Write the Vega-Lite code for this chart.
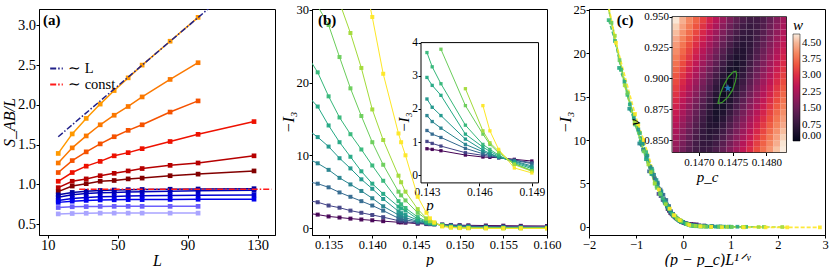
{
"$schema": "https://vega.github.io/schema/vega-lite/v6.json",
"padding": {"left": 0, "top": 3, "right": 0, "bottom": 0},
"config": {
 "font": "Liberation Serif",
 "view": {"stroke": "#000", "strokeWidth": 1},
 "axis": {"grid": false, "domainColor": "#000", "tickColor": "#000", "labelColor": "#000", "titleColor": "#000", "tickSize": 3, "labelFontSize": 12.5, "titleFontSize": 16, "titleFontWeight": "normal", "labelPadding": 0.5, "titlePadding": 0, "labelFlush": false},
 "legend": {"labelColor": "#000", "titleColor": "#000", "titleFontWeight": "normal"}
},
"datasets": {
 "sab": [
  {"L":16,"S":1.39,"d":-0.03},{"L":24,"S":1.635,"d":-0.03},{"L":32,"S":1.83,"d":-0.03},{"L":40,"S":2.01,"d":-0.03},{"L":48,"S":2.18,"d":-0.03},{"L":56,"S":2.34,"d":-0.03},{"L":64,"S":2.5,"d":-0.03},{"L":80,"S":2.8,"d":-0.03},{"L":96,"S":3.1,"d":-0.03},
  {"L":16,"S":1.27,"d":-0.025},{"L":24,"S":1.46,"d":-0.025},{"L":32,"S":1.61,"d":-0.025},{"L":40,"S":1.75,"d":-0.025},{"L":48,"S":1.87,"d":-0.025},{"L":56,"S":1.98,"d":-0.025},{"L":64,"S":2.1,"d":-0.025},{"L":80,"S":2.32,"d":-0.025},{"L":96,"S":2.53,"d":-0.025},
  {"L":16,"S":1.15,"d":-0.02},{"L":24,"S":1.3,"d":-0.02},{"L":32,"S":1.41,"d":-0.02},{"L":40,"S":1.51,"d":-0.02},{"L":48,"S":1.6,"d":-0.02},{"L":56,"S":1.68,"d":-0.02},{"L":64,"S":1.75,"d":-0.02},{"L":80,"S":1.91,"d":-0.02},{"L":96,"S":2.05,"d":-0.02},
  {"L":16,"S":1.04,"d":-0.015},{"L":24,"S":1.15,"d":-0.015},{"L":32,"S":1.23,"d":-0.015},{"L":40,"S":1.29,"d":-0.015},{"L":48,"S":1.36,"d":-0.015},{"L":56,"S":1.4,"d":-0.015},{"L":64,"S":1.45,"d":-0.015},{"L":80,"S":1.54,"d":-0.015},{"L":96,"S":1.63,"d":-0.015},{"L":128,"S":1.79,"d":-0.015},
  {"L":16,"S":0.96,"d":-0.01},{"L":24,"S":1.04,"d":-0.01},{"L":32,"S":1.07,"d":-0.01},{"L":40,"S":1.11,"d":-0.01},{"L":48,"S":1.14,"d":-0.01},{"L":56,"S":1.17,"d":-0.01},{"L":64,"S":1.2,"d":-0.01},{"L":80,"S":1.24,"d":-0.01},{"L":96,"S":1.27,"d":-0.01},{"L":128,"S":1.36,"d":-0.01},
  {"L":16,"S":0.91,"d":-0.005},{"L":24,"S":0.98,"d":-0.005},{"L":32,"S":1.01,"d":-0.005},{"L":40,"S":1.04,"d":-0.005},{"L":48,"S":1.05,"d":-0.005},{"L":56,"S":1.07,"d":-0.005},{"L":64,"S":1.08,"d":-0.005},{"L":80,"S":1.11,"d":-0.005},{"L":96,"S":1.13,"d":-0.005},{"L":128,"S":1.17,"d":-0.005},
  {"L":16,"S":0.87,"d":0},{"L":24,"S":0.9,"d":0},{"L":32,"S":0.915,"d":0},{"L":40,"S":0.925,"d":0},{"L":48,"S":0.93,"d":0},{"L":56,"S":0.935,"d":0},{"L":64,"S":0.937,"d":0},{"L":80,"S":0.94,"d":0},{"L":96,"S":0.943,"d":0},{"L":128,"S":0.947,"d":0},
  {"L":16,"S":0.84,"d":0.005},{"L":24,"S":0.87,"d":0.005},{"L":32,"S":0.885,"d":0.005},{"L":40,"S":0.895,"d":0.005},{"L":48,"S":0.9,"d":0.005},{"L":56,"S":0.905,"d":0.005},{"L":64,"S":0.91,"d":0.005},{"L":80,"S":0.915,"d":0.005},{"L":96,"S":0.92,"d":0.005},{"L":128,"S":0.926,"d":0.005},
  {"L":16,"S":0.8,"d":0.01},{"L":24,"S":0.825,"d":0.01},{"L":32,"S":0.835,"d":0.01},{"L":40,"S":0.845,"d":0.01},{"L":48,"S":0.85,"d":0.01},{"L":56,"S":0.855,"d":0.01},{"L":64,"S":0.858,"d":0.01},{"L":80,"S":0.862,"d":0.01},{"L":96,"S":0.865,"d":0.01},{"L":128,"S":0.868,"d":0.01},
  {"L":16,"S":0.775,"d":0.015},{"L":24,"S":0.79,"d":0.015},{"L":32,"S":0.8,"d":0.015},{"L":40,"S":0.805,"d":0.015},{"L":48,"S":0.807,"d":0.015},{"L":56,"S":0.81,"d":0.015},{"L":64,"S":0.81,"d":0.015},{"L":80,"S":0.812,"d":0.015},{"L":96,"S":0.814,"d":0.015},{"L":128,"S":0.815,"d":0.015},
  {"L":16,"S":0.71,"d":0.02},{"L":24,"S":0.72,"d":0.02},{"L":32,"S":0.722,"d":0.02},{"L":40,"S":0.724,"d":0.02},{"L":48,"S":0.725,"d":0.02},{"L":56,"S":0.725,"d":0.02},{"L":64,"S":0.725,"d":0.02},{"L":80,"S":0.725,"d":0.02},{"L":96,"S":0.725,"d":0.02},
  {"L":16,"S":0.63,"d":0.025},{"L":24,"S":0.635,"d":0.025},{"L":32,"S":0.638,"d":0.025},{"L":40,"S":0.64,"d":0.025},{"L":48,"S":0.64,"d":0.025},{"L":56,"S":0.64,"d":0.025},{"L":64,"S":0.64,"d":0.025},{"L":80,"S":0.64,"d":0.025},{"L":96,"S":0.64,"d":0.025}
 ],
 "refl": [
  {"L":16,"S":1.6,"kind":"∼ L"},{"L":102.5,"S":3.22,"kind":"∼ L"},
  {"L":28,"S":0.94,"kind":"∼ const"},{"L":138,"S":0.94,"kind":"∼ const"}
 ],
 "I3": [
  {"L":16,"p":0.1325,"I":2.05,"xs":-0.3346},{"L":16,"p":0.13375,"I":1.85,"xs":-0.3066},{"L":16,"p":0.135,"I":1.6,"xs":-0.2786},{"L":16,"p":0.13625,"I":1.45,"xs":-0.2507},{"L":16,"p":0.1375,"I":1.3,"xs":-0.2227},{"L":16,"p":0.13875,"I":1.18,"xs":-0.1947},{"L":16,"p":0.14,"I":1.07,"xs":-0.1667},{"L":16,"p":0.14125,"I":0.95,"xs":-0.1388},{"L":16,"p":0.143,"I":0.8,"xs":-0.0996},{"L":16,"p":0.1433,"I":0.78,"xs":-0.0929},{"L":16,"p":0.1438,"I":0.74,"xs":-0.0817},{"L":16,"p":0.1452,"I":0.61,"xs":-0.0504},{"L":16,"p":0.1462,"I":0.55,"xs":-0.028},{"L":16,"p":0.1466,"I":0.54,"xs":-0.019},{"L":16,"p":0.1471,"I":0.53,"xs":-0.0078},{"L":16,"p":0.148,"I":0.48,"xs":0.0123},{"L":16,"p":0.149,"I":0.43,"xs":0.0347},{"L":16,"p":0.15,"I":0.4,"xs":0.0571},{"L":16,"p":0.151,"I":0.38,"xs":0.0794},{"L":16,"p":0.153,"I":0.35,"xs":0.1242},{"L":16,"p":0.155,"I":0.33,"xs":0.169},{"L":16,"p":0.157,"I":0.31,"xs":0.2137},{"L":16,"p":0.16,"I":0.29,"xs":0.2809},
  {"L":24,"p":0.1325,"I":3.8,"xs":-0.5273},{"L":24,"p":0.13375,"I":3.55,"xs":-0.4832},{"L":24,"p":0.135,"I":3.1,"xs":-0.4391},{"L":24,"p":0.13625,"I":2.8,"xs":-0.395},{"L":24,"p":0.1375,"I":2.4,"xs":-0.3509},{"L":24,"p":0.13875,"I":2.1,"xs":-0.3068},{"L":24,"p":0.14,"I":1.8,"xs":-0.2628},{"L":24,"p":0.14125,"I":1.5,"xs":-0.2187},{"L":24,"p":0.143,"I":1.02,"xs":-0.157},{"L":24,"p":0.1433,"I":0.96,"xs":-0.1464},{"L":24,"p":0.1438,"I":0.88,"xs":-0.1287},{"L":24,"p":0.1452,"I":0.68,"xs":-0.0794},{"L":24,"p":0.1462,"I":0.6,"xs":-0.0441},{"L":24,"p":0.1466,"I":0.57,"xs":-0.03},{"L":24,"p":0.1471,"I":0.53,"xs":-0.0123},{"L":24,"p":0.148,"I":0.46,"xs":0.0194},{"L":24,"p":0.149,"I":0.38,"xs":0.0547},{"L":24,"p":0.15,"I":0.33,"xs":0.0899},{"L":24,"p":0.151,"I":0.29,"xs":0.1252},{"L":24,"p":0.153,"I":0.24,"xs":0.1957},{"L":24,"p":0.155,"I":0.21,"xs":0.2663},{"L":24,"p":0.157,"I":0.19,"xs":0.3368},{"L":24,"p":0.16,"I":0.17,"xs":0.4426},
  {"L":32,"p":0.1325,"I":6.4,"xs":-0.7278},{"L":32,"p":0.13375,"I":6.1,"xs":-0.6669},{"L":32,"p":0.135,"I":5.6,"xs":-0.6061},{"L":32,"p":0.13625,"I":4.9,"xs":-0.5452},{"L":32,"p":0.1375,"I":4.3,"xs":-0.4844},{"L":32,"p":0.13875,"I":3.7,"xs":-0.4235},{"L":32,"p":0.14,"I":3.1,"xs":-0.3627},{"L":32,"p":0.14125,"I":2.4,"xs":-0.3018},{"L":32,"p":0.143,"I":1.35,"xs":-0.2166},{"L":32,"p":0.1433,"I":1.24,"xs":-0.202},{"L":32,"p":0.1438,"I":1.14,"xs":-0.1777},{"L":32,"p":0.1452,"I":0.81,"xs":-0.1095},{"L":32,"p":0.1462,"I":0.65,"xs":-0.0609},{"L":32,"p":0.1466,"I":0.6,"xs":-0.0414},{"L":32,"p":0.1471,"I":0.53,"xs":-0.017},{"L":32,"p":0.148,"I":0.45,"xs":0.0268},{"L":32,"p":0.149,"I":0.35,"xs":0.0755},{"L":32,"p":0.15,"I":0.28,"xs":0.1241},{"L":32,"p":0.151,"I":0.23,"xs":0.1728},{"L":32,"p":0.153,"I":0.17,"xs":0.2702},{"L":32,"p":0.155,"I":0.14,"xs":0.3675},{"L":32,"p":0.157,"I":0.12,"xs":0.4649},{"L":32,"p":0.16,"I":0.1,"xs":0.6109},
  {"L":40,"p":0.1325,"I":9.6,"xs":-0.9345},{"L":40,"p":0.13375,"I":8.9,"xs":-0.8564},{"L":40,"p":0.135,"I":8.0,"xs":-0.7782},{"L":40,"p":0.13625,"I":6.9,"xs":-0.7001},{"L":40,"p":0.1375,"I":6.0,"xs":-0.622},{"L":40,"p":0.13875,"I":5.1,"xs":-0.5438},{"L":40,"p":0.14,"I":4.1,"xs":-0.4657},{"L":40,"p":0.14125,"I":3.0,"xs":-0.3876},{"L":40,"p":0.143,"I":1.8,"xs":-0.2782},{"L":40,"p":0.1433,"I":1.62,"xs":-0.2594},{"L":40,"p":0.1438,"I":1.42,"xs":-0.2282},{"L":40,"p":0.1452,"I":0.93,"xs":-0.1406},{"L":40,"p":0.1462,"I":0.71,"xs":-0.0781},{"L":40,"p":0.1466,"I":0.63,"xs":-0.0531},{"L":40,"p":0.1471,"I":0.55,"xs":-0.0219},{"L":40,"p":0.148,"I":0.43,"xs":0.0344},{"L":40,"p":0.149,"I":0.28,"xs":0.0969},{"L":40,"p":0.15,"I":0.2,"xs":0.1594},{"L":40,"p":0.151,"I":0.15,"xs":0.2219},{"L":40,"p":0.153,"I":0.1,"xs":0.3469},{"L":40,"p":0.155,"I":0.08,"xs":0.472},{"L":40,"p":0.157,"I":0.07,"xs":0.597},{"L":40,"p":0.16,"I":0.06,"xs":0.7845},
  {"L":48,"p":0.1325,"I":13.6,"xs":-1.1468},{"L":48,"p":0.13375,"I":12.5,"xs":-1.0509},{"L":48,"p":0.135,"I":11.2,"xs":-0.955},{"L":48,"p":0.13625,"I":9.6,"xs":-0.8592},{"L":48,"p":0.1375,"I":8.2,"xs":-0.7633},{"L":48,"p":0.13875,"I":6.7,"xs":-0.6674},{"L":48,"p":0.14,"I":5.4,"xs":-0.5715},{"L":48,"p":0.14125,"I":4.0,"xs":-0.4756},{"L":48,"p":0.143,"I":2.3,"xs":-0.3414},{"L":48,"p":0.1433,"I":2.05,"xs":-0.3183},{"L":48,"p":0.1438,"I":1.8,"xs":-0.28},{"L":48,"p":0.1452,"I":1.09,"xs":-0.1726},{"L":48,"p":0.1462,"I":0.76,"xs":-0.0959},{"L":48,"p":0.1466,"I":0.66,"xs":-0.0652},{"L":48,"p":0.1471,"I":0.55,"xs":-0.0268},{"L":48,"p":0.148,"I":0.41,"xs":0.0422},{"L":48,"p":0.149,"I":0.24,"xs":0.1189},{"L":48,"p":0.15,"I":0.15,"xs":0.1956},{"L":48,"p":0.151,"I":0.1,"xs":0.2723},{"L":48,"p":0.153,"I":0.06,"xs":0.4257},{"L":48,"p":0.155,"I":0.05,"xs":0.5792},{"L":48,"p":0.157,"I":0.04,"xs":0.7326},{"L":48,"p":0.16,"I":0.03,"xs":0.9627},
  {"L":56,"p":0.1325,"I":18.3,"xs":-1.363},{"L":56,"p":0.13375,"I":16.7,"xs":-1.249},{"L":56,"p":0.135,"I":14.1,"xs":-1.1351},{"L":56,"p":0.13625,"I":11.8,"xs":-1.0211},{"L":56,"p":0.1375,"I":9.8,"xs":-0.9071},{"L":56,"p":0.13875,"I":7.8,"xs":-0.7932},{"L":56,"p":0.14,"I":6.1,"xs":-0.6792},{"L":56,"p":0.14125,"I":4.7,"xs":-0.5653},{"L":56,"p":0.143,"I":2.95,"xs":-0.4057},{"L":56,"p":0.1433,"I":2.71,"xs":-0.3784},{"L":56,"p":0.1438,"I":2.41,"xs":-0.3328},{"L":56,"p":0.1452,"I":1.24,"xs":-0.2051},{"L":56,"p":0.1462,"I":0.85,"xs":-0.114},{"L":56,"p":0.1466,"I":0.72,"xs":-0.0775},{"L":56,"p":0.1471,"I":0.58,"xs":-0.0319},{"L":56,"p":0.148,"I":0.38,"xs":0.0501},{"L":56,"p":0.149,"I":0.2,"xs":0.1413},{"L":56,"p":0.15,"I":0.12,"xs":0.2325},{"L":56,"p":0.151,"I":0.08,"xs":0.3237},{"L":56,"p":0.153,"I":0.04,"xs":0.506},{"L":56,"p":0.155,"I":0.03,"xs":0.6883},{"L":56,"p":0.157,"I":0.03,"xs":0.8707},{"L":56,"p":0.16,"I":0.02,"xs":1.1442},
  {"L":64,"p":0.1325,"I":23.8,"xs":-1.5832},{"L":64,"p":0.13375,"I":21.4,"xs":-1.4508},{"L":64,"p":0.135,"I":18.1,"xs":-1.3185},{"L":64,"p":0.13625,"I":15.2,"xs":-1.1861},{"L":64,"p":0.1375,"I":12.9,"xs":-1.0537},{"L":64,"p":0.13875,"I":10.8,"xs":-0.9213},{"L":64,"p":0.14,"I":8.6,"xs":-0.789},{"L":64,"p":0.14125,"I":6.5,"xs":-0.6566},{"L":64,"p":0.143,"I":3.7,"xs":-0.4713},{"L":64,"p":0.1433,"I":3.27,"xs":-0.4395},{"L":64,"p":0.1438,"I":2.76,"xs":-0.3865},{"L":64,"p":0.1452,"I":1.51,"xs":-0.2383},{"L":64,"p":0.1462,"I":0.93,"xs":-0.1324},{"L":64,"p":0.1466,"I":0.78,"xs":-0.09},{"L":64,"p":0.1471,"I":0.61,"xs":-0.0371},{"L":64,"p":0.148,"I":0.35,"xs":0.0582},{"L":64,"p":0.149,"I":0.14,"xs":0.1641},{"L":64,"p":0.15,"I":0.08,"xs":0.27},{"L":64,"p":0.151,"I":0.05,"xs":0.3759},{"L":64,"p":0.153,"I":0.03,"xs":0.5877},{"L":64,"p":0.155,"I":0.02,"xs":0.7995},{"L":64,"p":0.157,"I":0.02,"xs":1.0113},{"L":64,"p":0.16,"I":0.01,"xs":1.329},
  {"L":80,"p":0.1325,"I":34.0,"xs":-2.0332},{"L":80,"p":0.13375,"I":30.5,"xs":-1.8632},{"L":80,"p":0.135,"I":27.9,"xs":-1.6932},{"L":80,"p":0.13625,"I":23.5,"xs":-1.5232},{"L":80,"p":0.1375,"I":19.2,"xs":-1.3532},{"L":80,"p":0.13875,"I":15.4,"xs":-1.1832},{"L":80,"p":0.14,"I":11.8,"xs":-1.0132},{"L":80,"p":0.14125,"I":8.7,"xs":-0.8432},{"L":80,"p":0.143,"I":5.0,"xs":-0.6052},{"L":80,"p":0.1433,"I":4.5,"xs":-0.5644},{"L":80,"p":0.1438,"I":3.8,"xs":-0.4964},{"L":80,"p":0.1452,"I":2.1,"xs":-0.306},{"L":80,"p":0.1462,"I":1.24,"xs":-0.17},{"L":80,"p":0.1466,"I":0.93,"xs":-0.1156},{"L":80,"p":0.1471,"I":0.68,"xs":-0.0476},{"L":80,"p":0.148,"I":0.35,"xs":0.0748},{"L":80,"p":0.149,"I":0.14,"xs":0.2108},{"L":80,"p":0.15,"I":0.06,"xs":0.3468},{"L":80,"p":0.151,"I":0.03,"xs":0.4828},{"L":80,"p":0.153,"I":0.01,"xs":0.7548},{"L":80,"p":0.155,"I":0.0,"xs":1.0268},{"L":80,"p":0.157,"I":0.0,"xs":1.2988},{"L":80,"p":0.16,"I":0.0,"xs":1.7068},
  {"L":96,"p":0.13625,"I":31.0,"xs":-1.8693},{"L":96,"p":0.1375,"I":26.8,"xs":-1.6607},{"L":96,"p":0.13875,"I":22.0,"xs":-1.452},{"L":96,"p":0.14,"I":16.3,"xs":-1.2434},{"L":96,"p":0.14125,"I":12.1,"xs":-1.0348},{"L":96,"p":0.143,"I":7.2,"xs":-0.7427},{"L":96,"p":0.1433,"I":6.3,"xs":-0.6926},{"L":96,"p":0.1438,"I":5.0,"xs":-0.6092},{"L":96,"p":0.1452,"I":2.61,"xs":-0.3755},{"L":96,"p":0.1462,"I":1.34,"xs":-0.2086},{"L":96,"p":0.1466,"I":0.98,"xs":-0.1419},{"L":96,"p":0.1471,"I":0.73,"xs":-0.0584},{"L":96,"p":0.148,"I":0.32,"xs":0.0918},{"L":96,"p":0.149,"I":0.12,"xs":0.2587},{"L":96,"p":0.15,"I":0.05,"xs":0.4256},{"L":96,"p":0.151,"I":0.02,"xs":0.5925},{"L":96,"p":0.153,"I":0.0,"xs":0.9263},{"L":96,"p":0.155,"I":-0.01,"xs":1.2601},{"L":96,"p":0.157,"I":-0.01,"xs":1.5939},{"L":96,"p":0.16,"I":-0.01,"xs":2.0946},
  {"L":128,"p":0.13875,"I":36.0,"xs":-2.0045},{"L":128,"p":0.14,"I":29.0,"xs":-1.7165},{"L":128,"p":0.14125,"I":21.2,"xs":-1.4285},{"L":128,"p":0.143,"I":13.0,"xs":-1.0253},{"L":128,"p":0.1433,"I":11.8,"xs":-0.9562},{"L":128,"p":0.1438,"I":10.0,"xs":-0.841},{"L":128,"p":0.1452,"I":4.3,"xs":-0.5184},{"L":128,"p":0.1462,"I":2.1,"xs":-0.288},{"L":128,"p":0.1466,"I":1.34,"xs":-0.1958},{"L":128,"p":0.1471,"I":0.78,"xs":-0.0806},{"L":128,"p":0.148,"I":0.22,"xs":0.1267},{"L":128,"p":0.149,"I":0.07,"xs":0.3571},{"L":128,"p":0.15,"I":0.0,"xs":0.5875},{"L":128,"p":0.151,"I":-0.03,"xs":0.8179},{"L":128,"p":0.153,"I":-0.05,"xs":1.2787},{"L":128,"p":0.155,"I":-0.05,"xs":1.7395},{"L":128,"p":0.157,"I":-0.05,"xs":2.2003},{"L":128,"p":0.16,"I":-0.05,"xs":2.8915}
 ],
 "ell": [
  {"pc":0.14728,"nu":0.8795,"o":1},{"pc":0.14732,"nu":0.888,"o":2},{"pc":0.14737,"nu":0.8946,"o":3},{"pc":0.14744,"nu":0.9013,"o":4},{"pc":0.14751,"nu":0.9053,"o":5},{"pc":0.14755,"nu":0.9058,"o":6},{"pc":0.14756,"nu":0.9026,"o":7},{"pc":0.14754,"nu":0.8973,"o":8},{"pc":0.1475,"nu":0.8906,"o":9},{"pc":0.14743,"nu":0.8848,"o":10},{"pc":0.14735,"nu":0.8806,"o":11},{"pc":0.14728,"nu":0.8795,"o":12}
 ],
 "star": [{"pc":0.14743,"nu":0.892}],
 "heat": [
  {"pc":0.1466,"nu":0.84,"w":1.95},{"pc":0.1467,"nu":0.84,"w":1.57},{"pc":0.1468,"nu":0.84,"w":1.23},{"pc":0.1469,"nu":0.84,"w":0.95},{"pc":0.147,"nu":0.84,"w":0.8},{"pc":0.1471,"nu":0.84,"w":0.86},{"pc":0.1472,"nu":0.84,"w":1.09},{"pc":0.1473,"nu":0.84,"w":1.41},{"pc":0.1474,"nu":0.84,"w":1.77},{"pc":0.1475,"nu":0.84,"w":2.15},{"pc":0.1476,"nu":0.84,"w":2.55},{"pc":0.1477,"nu":0.84,"w":2.95},{"pc":0.1478,"nu":0.84,"w":3.36},{"pc":0.1479,"nu":0.84,"w":3.77},{"pc":0.148,"nu":0.84,"w":4.18},{"pc":0.1481,"nu":0.84,"w":4.59},{"pc":0.1482,"nu":0.84,"w":4.9},
  {"pc":0.1466,"nu":0.845,"w":2.05},{"pc":0.1467,"nu":0.845,"w":1.66},{"pc":0.1468,"nu":0.845,"w":1.29},{"pc":0.1469,"nu":0.845,"w":0.97},{"pc":0.147,"nu":0.845,"w":0.75},{"pc":0.1471,"nu":0.845,"w":0.74},{"pc":0.1472,"nu":0.845,"w":0.93},{"pc":0.1473,"nu":0.845,"w":1.25},{"pc":0.1474,"nu":0.845,"w":1.61},{"pc":0.1475,"nu":0.845,"w":1.99},{"pc":0.1476,"nu":0.845,"w":2.39},{"pc":0.1477,"nu":0.845,"w":2.79},{"pc":0.1478,"nu":0.845,"w":3.2},{"pc":0.1479,"nu":0.845,"w":3.61},{"pc":0.148,"nu":0.845,"w":4.03},{"pc":0.1481,"nu":0.845,"w":4.44},{"pc":0.1482,"nu":0.845,"w":4.85},
  {"pc":0.1466,"nu":0.85,"w":2.16},{"pc":0.1467,"nu":0.85,"w":1.76},{"pc":0.1468,"nu":0.85,"w":1.38},{"pc":0.1469,"nu":0.85,"w":1.02},{"pc":0.147,"nu":0.85,"w":0.74},{"pc":0.1471,"nu":0.85,"w":0.63},{"pc":0.1472,"nu":0.85,"w":0.78},{"pc":0.1473,"nu":0.85,"w":1.08},{"pc":0.1474,"nu":0.85,"w":1.44},{"pc":0.1475,"nu":0.85,"w":1.83},{"pc":0.1476,"nu":0.85,"w":2.23},{"pc":0.1477,"nu":0.85,"w":2.64},{"pc":0.1478,"nu":0.85,"w":3.04},{"pc":0.1479,"nu":0.85,"w":3.46},{"pc":0.148,"nu":0.85,"w":3.87},{"pc":0.1481,"nu":0.85,"w":4.29},{"pc":0.1482,"nu":0.85,"w":4.7},
  {"pc":0.1466,"nu":0.855,"w":2.27},{"pc":0.1467,"nu":0.855,"w":1.87},{"pc":0.1468,"nu":0.855,"w":1.47},{"pc":0.1469,"nu":0.855,"w":1.1},{"pc":0.147,"nu":0.855,"w":0.76},{"pc":0.1471,"nu":0.855,"w":0.56},{"pc":0.1472,"nu":0.855,"w":0.64},{"pc":0.1473,"nu":0.855,"w":0.92},{"pc":0.1474,"nu":0.855,"w":1.28},{"pc":0.1475,"nu":0.855,"w":1.67},{"pc":0.1476,"nu":0.855,"w":2.07},{"pc":0.1477,"nu":0.855,"w":2.48},{"pc":0.1478,"nu":0.855,"w":2.89},{"pc":0.1479,"nu":0.855,"w":3.3},{"pc":0.148,"nu":0.855,"w":3.72},{"pc":0.1481,"nu":0.855,"w":4.13},{"pc":0.1482,"nu":0.855,"w":4.55},
  {"pc":0.1466,"nu":0.86,"w":2.4},{"pc":0.1467,"nu":0.86,"w":1.99},{"pc":0.1468,"nu":0.86,"w":1.58},{"pc":0.1469,"nu":0.86,"w":1.19},{"pc":0.147,"nu":0.86,"w":0.82},{"pc":0.1471,"nu":0.86,"w":0.53},{"pc":0.1472,"nu":0.86,"w":0.5},{"pc":0.1473,"nu":0.86,"w":0.76},{"pc":0.1474,"nu":0.86,"w":1.12},{"pc":0.1475,"nu":0.86,"w":1.51},{"pc":0.1476,"nu":0.86,"w":1.91},{"pc":0.1477,"nu":0.86,"w":2.32},{"pc":0.1478,"nu":0.86,"w":2.73},{"pc":0.1479,"nu":0.86,"w":3.15},{"pc":0.148,"nu":0.86,"w":3.56},{"pc":0.1481,"nu":0.86,"w":3.98},{"pc":0.1482,"nu":0.86,"w":4.4},
  {"pc":0.1466,"nu":0.865,"w":2.52},{"pc":0.1467,"nu":0.865,"w":2.11},{"pc":0.1468,"nu":0.865,"w":1.7},{"pc":0.1469,"nu":0.865,"w":1.29},{"pc":0.147,"nu":0.865,"w":0.9},{"pc":0.1471,"nu":0.865,"w":0.55},{"pc":0.1472,"nu":0.865,"w":0.39},{"pc":0.1473,"nu":0.865,"w":0.6},{"pc":0.1474,"nu":0.865,"w":0.95},{"pc":0.1475,"nu":0.865,"w":1.35},{"pc":0.1476,"nu":0.865,"w":1.75},{"pc":0.1477,"nu":0.865,"w":2.17},{"pc":0.1478,"nu":0.865,"w":2.58},{"pc":0.1479,"nu":0.865,"w":2.99},{"pc":0.148,"nu":0.865,"w":3.41},{"pc":0.1481,"nu":0.865,"w":3.83},{"pc":0.1482,"nu":0.865,"w":4.25},
  {"pc":0.1466,"nu":0.87,"w":2.65},{"pc":0.1467,"nu":0.87,"w":2.24},{"pc":0.1468,"nu":0.87,"w":1.82},{"pc":0.1469,"nu":0.87,"w":1.41},{"pc":0.147,"nu":0.87,"w":1.0},{"pc":0.1471,"nu":0.87,"w":0.62},{"pc":0.1472,"nu":0.87,"w":0.33},{"pc":0.1473,"nu":0.87,"w":0.44},{"pc":0.1474,"nu":0.87,"w":0.79},{"pc":0.1475,"nu":0.87,"w":1.19},{"pc":0.1476,"nu":0.87,"w":1.6},{"pc":0.1477,"nu":0.87,"w":2.01},{"pc":0.1478,"nu":0.87,"w":2.43},{"pc":0.1479,"nu":0.87,"w":2.84},{"pc":0.148,"nu":0.87,"w":3.26},{"pc":0.1481,"nu":0.87,"w":3.68},{"pc":0.1482,"nu":0.87,"w":4.1},
  {"pc":0.1466,"nu":0.875,"w":2.79},{"pc":0.1467,"nu":0.875,"w":2.37},{"pc":0.1468,"nu":0.875,"w":1.95},{"pc":0.1469,"nu":0.875,"w":1.53},{"pc":0.147,"nu":0.875,"w":1.12},{"pc":0.1471,"nu":0.875,"w":0.72},{"pc":0.1472,"nu":0.875,"w":0.35},{"pc":0.1473,"nu":0.875,"w":0.29},{"pc":0.1474,"nu":0.875,"w":0.63},{"pc":0.1475,"nu":0.875,"w":1.03},{"pc":0.1476,"nu":0.875,"w":1.44},{"pc":0.1477,"nu":0.875,"w":1.86},{"pc":0.1478,"nu":0.875,"w":2.28},{"pc":0.1479,"nu":0.875,"w":2.69},{"pc":0.148,"nu":0.875,"w":3.11},{"pc":0.1481,"nu":0.875,"w":3.53},{"pc":0.1482,"nu":0.875,"w":3.95},
  {"pc":0.1466,"nu":0.88,"w":2.92},{"pc":0.1467,"nu":0.88,"w":2.5},{"pc":0.1468,"nu":0.88,"w":2.08},{"pc":0.1469,"nu":0.88,"w":1.67},{"pc":0.147,"nu":0.88,"w":1.25},{"pc":0.1471,"nu":0.88,"w":0.83},{"pc":0.1472,"nu":0.88,"w":0.43},{"pc":0.1473,"nu":0.88,"w":0.15},{"pc":0.1474,"nu":0.88,"w":0.47},{"pc":0.1475,"nu":0.88,"w":0.87},{"pc":0.1476,"nu":0.88,"w":1.29},{"pc":0.1477,"nu":0.88,"w":1.71},{"pc":0.1478,"nu":0.88,"w":2.13},{"pc":0.1479,"nu":0.88,"w":2.55},{"pc":0.148,"nu":0.88,"w":2.97},{"pc":0.1481,"nu":0.88,"w":3.38},{"pc":0.1482,"nu":0.88,"w":3.8},
  {"pc":0.1466,"nu":0.885,"w":3.06},{"pc":0.1467,"nu":0.885,"w":2.64},{"pc":0.1468,"nu":0.885,"w":2.22},{"pc":0.1469,"nu":0.885,"w":1.8},{"pc":0.147,"nu":0.885,"w":1.38},{"pc":0.1471,"nu":0.885,"w":0.97},{"pc":0.1472,"nu":0.885,"w":0.55},{"pc":0.1473,"nu":0.885,"w":0.14},{"pc":0.1474,"nu":0.885,"w":0.31},{"pc":0.1475,"nu":0.885,"w":0.72},{"pc":0.1476,"nu":0.885,"w":1.14},{"pc":0.1477,"nu":0.885,"w":1.56},{"pc":0.1478,"nu":0.885,"w":1.98},{"pc":0.1479,"nu":0.885,"w":2.4},{"pc":0.148,"nu":0.885,"w":2.82},{"pc":0.1481,"nu":0.885,"w":3.24},{"pc":0.1482,"nu":0.885,"w":3.66},
  {"pc":0.1466,"nu":0.89,"w":3.21},{"pc":0.1467,"nu":0.89,"w":2.79},{"pc":0.1468,"nu":0.89,"w":2.37},{"pc":0.1469,"nu":0.89,"w":1.95},{"pc":0.147,"nu":0.89,"w":1.53},{"pc":0.1471,"nu":0.89,"w":1.11},{"pc":0.1472,"nu":0.89,"w":0.69},{"pc":0.1473,"nu":0.89,"w":0.27},{"pc":0.1474,"nu":0.89,"w":0.16},{"pc":0.1475,"nu":0.89,"w":0.58},{"pc":0.1476,"nu":0.89,"w":1.0},{"pc":0.1477,"nu":0.89,"w":1.42},{"pc":0.1478,"nu":0.89,"w":1.84},{"pc":0.1479,"nu":0.89,"w":2.26},{"pc":0.148,"nu":0.89,"w":2.68},{"pc":0.1481,"nu":0.89,"w":3.1},{"pc":0.1482,"nu":0.89,"w":3.52},
  {"pc":0.1466,"nu":0.895,"w":3.35},{"pc":0.1467,"nu":0.895,"w":2.93},{"pc":0.1468,"nu":0.895,"w":2.51},{"pc":0.1469,"nu":0.895,"w":2.09},{"pc":0.147,"nu":0.895,"w":1.67},{"pc":0.1471,"nu":0.895,"w":1.25},{"pc":0.1472,"nu":0.895,"w":0.83},{"pc":0.1473,"nu":0.895,"w":0.42},{"pc":0.1474,"nu":0.895,"w":0.09},{"pc":0.1475,"nu":0.895,"w":0.44},{"pc":0.1476,"nu":0.895,"w":0.86},{"pc":0.1477,"nu":0.895,"w":1.28},{"pc":0.1478,"nu":0.895,"w":1.7},{"pc":0.1479,"nu":0.895,"w":2.11},{"pc":0.148,"nu":0.895,"w":2.53},{"pc":0.1481,"nu":0.895,"w":2.95},{"pc":0.1482,"nu":0.895,"w":3.37},
  {"pc":0.1466,"nu":0.9,"w":3.49},{"pc":0.1467,"nu":0.9,"w":3.08},{"pc":0.1468,"nu":0.9,"w":2.66},{"pc":0.1469,"nu":0.9,"w":2.24},{"pc":0.147,"nu":0.9,"w":1.82},{"pc":0.1471,"nu":0.9,"w":1.4},{"pc":0.1472,"nu":0.9,"w":0.98},{"pc":0.1473,"nu":0.9,"w":0.58},{"pc":0.1474,"nu":0.9,"w":0.21},{"pc":0.1475,"nu":0.9,"w":0.34},{"pc":0.1476,"nu":0.9,"w":0.73},{"pc":0.1477,"nu":0.9,"w":1.14},{"pc":0.1478,"nu":0.9,"w":1.56},{"pc":0.1479,"nu":0.9,"w":1.98},{"pc":0.148,"nu":0.9,"w":2.4},{"pc":0.1481,"nu":0.9,"w":2.82},{"pc":0.1482,"nu":0.9,"w":3.23},
  {"pc":0.1466,"nu":0.905,"w":3.64},{"pc":0.1467,"nu":0.905,"w":3.22},{"pc":0.1468,"nu":0.905,"w":2.8},{"pc":0.1469,"nu":0.905,"w":2.39},{"pc":0.147,"nu":0.905,"w":1.97},{"pc":0.1471,"nu":0.905,"w":1.55},{"pc":0.1472,"nu":0.905,"w":1.14},{"pc":0.1473,"nu":0.905,"w":0.74},{"pc":0.1474,"nu":0.905,"w":0.37},{"pc":0.1475,"nu":0.905,"w":0.29},{"pc":0.1476,"nu":0.905,"w":0.62},{"pc":0.1477,"nu":0.905,"w":1.02},{"pc":0.1478,"nu":0.905,"w":1.43},{"pc":0.1479,"nu":0.905,"w":1.84},{"pc":0.148,"nu":0.905,"w":2.26},{"pc":0.1481,"nu":0.905,"w":2.68},{"pc":0.1482,"nu":0.905,"w":3.1},
  {"pc":0.1466,"nu":0.91,"w":3.79},{"pc":0.1467,"nu":0.91,"w":3.37},{"pc":0.1468,"nu":0.91,"w":2.95},{"pc":0.1469,"nu":0.91,"w":2.54},{"pc":0.147,"nu":0.91,"w":2.12},{"pc":0.1471,"nu":0.91,"w":1.71},{"pc":0.1472,"nu":0.91,"w":1.3},{"pc":0.1473,"nu":0.91,"w":0.9},{"pc":0.1474,"nu":0.91,"w":0.53},{"pc":0.1475,"nu":0.91,"w":0.33},{"pc":0.1476,"nu":0.91,"w":0.54},{"pc":0.1477,"nu":0.91,"w":0.91},{"pc":0.1478,"nu":0.91,"w":1.31},{"pc":0.1479,"nu":0.91,"w":1.72},{"pc":0.148,"nu":0.91,"w":2.13},{"pc":0.1481,"nu":0.91,"w":2.55},{"pc":0.1482,"nu":0.91,"w":2.96},
  {"pc":0.1466,"nu":0.915,"w":3.94},{"pc":0.1467,"nu":0.915,"w":3.52},{"pc":0.1468,"nu":0.915,"w":3.11},{"pc":0.1469,"nu":0.915,"w":2.69},{"pc":0.147,"nu":0.915,"w":2.28},{"pc":0.1471,"nu":0.915,"w":1.86},{"pc":0.1472,"nu":0.915,"w":1.46},{"pc":0.1473,"nu":0.915,"w":1.06},{"pc":0.1474,"nu":0.915,"w":0.69},{"pc":0.1475,"nu":0.915,"w":0.43},{"pc":0.1476,"nu":0.915,"w":0.5},{"pc":0.1477,"nu":0.915,"w":0.81},{"pc":0.1478,"nu":0.915,"w":1.19},{"pc":0.1479,"nu":0.915,"w":1.59},{"pc":0.148,"nu":0.915,"w":2.0},{"pc":0.1481,"nu":0.915,"w":2.42},{"pc":0.1482,"nu":0.915,"w":2.83},
  {"pc":0.1466,"nu":0.92,"w":4.09},{"pc":0.1467,"nu":0.92,"w":3.67},{"pc":0.1468,"nu":0.92,"w":3.26},{"pc":0.1469,"nu":0.92,"w":2.84},{"pc":0.147,"nu":0.92,"w":2.43},{"pc":0.1471,"nu":0.92,"w":2.02},{"pc":0.1472,"nu":0.92,"w":1.62},{"pc":0.1473,"nu":0.92,"w":1.22},{"pc":0.1474,"nu":0.92,"w":0.85},{"pc":0.1475,"nu":0.92,"w":0.56},{"pc":0.1476,"nu":0.92,"w":0.51},{"pc":0.1477,"nu":0.92,"w":0.74},{"pc":0.1478,"nu":0.92,"w":1.09},{"pc":0.1479,"nu":0.92,"w":1.48},{"pc":0.148,"nu":0.92,"w":1.88},{"pc":0.1481,"nu":0.92,"w":2.29},{"pc":0.1482,"nu":0.92,"w":2.7},
  {"pc":0.1466,"nu":0.925,"w":4.24},{"pc":0.1467,"nu":0.925,"w":3.83},{"pc":0.1468,"nu":0.925,"w":3.41},{"pc":0.1469,"nu":0.925,"w":3.0},{"pc":0.147,"nu":0.925,"w":2.59},{"pc":0.1471,"nu":0.925,"w":2.18},{"pc":0.1472,"nu":0.925,"w":1.78},{"pc":0.1473,"nu":0.925,"w":1.39},{"pc":0.1474,"nu":0.925,"w":1.02},{"pc":0.1475,"nu":0.925,"w":0.71},{"pc":0.1476,"nu":0.925,"w":0.57},{"pc":0.1477,"nu":0.925,"w":0.7},{"pc":0.1478,"nu":0.925,"w":1.01},{"pc":0.1479,"nu":0.925,"w":1.38},{"pc":0.148,"nu":0.925,"w":1.77},{"pc":0.1481,"nu":0.925,"w":2.17},{"pc":0.1482,"nu":0.925,"w":2.58},
  {"pc":0.1466,"nu":0.93,"w":4.4},{"pc":0.1467,"nu":0.93,"w":3.98},{"pc":0.1468,"nu":0.93,"w":3.57},{"pc":0.1469,"nu":0.93,"w":3.15},{"pc":0.147,"nu":0.93,"w":2.75},{"pc":0.1471,"nu":0.93,"w":2.34},{"pc":0.1472,"nu":0.93,"w":1.94},{"pc":0.1473,"nu":0.93,"w":1.55},{"pc":0.1474,"nu":0.93,"w":1.18},{"pc":0.1475,"nu":0.93,"w":0.86},{"pc":0.1476,"nu":0.93,"w":0.67},{"pc":0.1477,"nu":0.93,"w":0.7},{"pc":0.1478,"nu":0.93,"w":0.95},{"pc":0.1479,"nu":0.93,"w":1.29},{"pc":0.148,"nu":0.93,"w":1.66},{"pc":0.1481,"nu":0.93,"w":2.06},{"pc":0.1482,"nu":0.93,"w":2.46},
  {"pc":0.1466,"nu":0.935,"w":4.55},{"pc":0.1467,"nu":0.935,"w":4.13},{"pc":0.1468,"nu":0.935,"w":3.72},{"pc":0.1469,"nu":0.935,"w":3.31},{"pc":0.147,"nu":0.935,"w":2.9},{"pc":0.1471,"nu":0.935,"w":2.5},{"pc":0.1472,"nu":0.935,"w":2.1},{"pc":0.1473,"nu":0.935,"w":1.71},{"pc":0.1474,"nu":0.935,"w":1.34},{"pc":0.1475,"nu":0.935,"w":1.02},{"pc":0.1476,"nu":0.935,"w":0.78},{"pc":0.1477,"nu":0.935,"w":0.74},{"pc":0.1478,"nu":0.935,"w":0.91},{"pc":0.1479,"nu":0.935,"w":1.21},{"pc":0.148,"nu":0.935,"w":1.57},{"pc":0.1481,"nu":0.935,"w":1.95},{"pc":0.1482,"nu":0.935,"w":2.35},
  {"pc":0.1466,"nu":0.94,"w":4.7},{"pc":0.1467,"nu":0.94,"w":4.29},{"pc":0.1468,"nu":0.94,"w":3.88},{"pc":0.1469,"nu":0.94,"w":3.47},{"pc":0.147,"nu":0.94,"w":3.06},{"pc":0.1471,"nu":0.94,"w":2.66},{"pc":0.1472,"nu":0.94,"w":2.26},{"pc":0.1473,"nu":0.94,"w":1.88},{"pc":0.1474,"nu":0.94,"w":1.51},{"pc":0.1475,"nu":0.94,"w":1.18},{"pc":0.1476,"nu":0.94,"w":0.92},{"pc":0.1477,"nu":0.94,"w":0.81},{"pc":0.1478,"nu":0.94,"w":0.91},{"pc":0.1479,"nu":0.94,"w":1.16},{"pc":0.148,"nu":0.94,"w":1.49},{"pc":0.1481,"nu":0.94,"w":1.85},{"pc":0.1482,"nu":0.94,"w":2.24},
  {"pc":0.1466,"nu":0.945,"w":4.86},{"pc":0.1467,"nu":0.945,"w":4.45},{"pc":0.1468,"nu":0.945,"w":4.03},{"pc":0.1469,"nu":0.945,"w":3.63},{"pc":0.147,"nu":0.945,"w":3.22},{"pc":0.1471,"nu":0.945,"w":2.82},{"pc":0.1472,"nu":0.945,"w":2.42},{"pc":0.1473,"nu":0.945,"w":2.04},{"pc":0.1474,"nu":0.945,"w":1.67},{"pc":0.1475,"nu":0.945,"w":1.33},{"pc":0.1476,"nu":0.945,"w":1.06},{"pc":0.1477,"nu":0.945,"w":0.9},{"pc":0.1478,"nu":0.945,"w":0.93},{"pc":0.1479,"nu":0.945,"w":1.12},{"pc":0.148,"nu":0.945,"w":1.42},{"pc":0.1481,"nu":0.945,"w":1.77},{"pc":0.1482,"nu":0.945,"w":2.14}
 ]
},
"spacing": 37,
"bounds": "flush",
"resolve": {"scale": {"color": "independent", "stroke": "independent"}, "legend": {"color": "independent", "stroke": "independent"}},
"hconcat": [
 {
  "width": 236, "height": 226,
  "layer": [
   {
    "data": {"name": "sab"},
    "mark": {"type": "line", "strokeWidth": 1.5, "clip": true},
    "encoding": {
     "x": {"field": "L", "type": "quantitative", "scale": {"domain": [5, 140], "nice": false, "zero": false}, "axis": {"values": [10, 50, 90, 130], "title": "L", "titleFontStyle": "italic", "labelFontSize": 14.5, "titleFontSize": 16}},
     "y": {"field": "S", "type": "quantitative", "scale": {"domain": [0.365, 3.205], "nice": false, "zero": false}, "axis": {"values": [0.5, 1, 1.5, 2, 2.5, 3], "format": ".1f", "title": "S_AB/L", "titleFontStyle": "italic", "labelFontSize": 14.5, "titleFontSize": 16}},
     "color": {"field": "d", "type": "quantitative", "scale": {"domain": [-0.03, -0.015, 0, 0.015, 0.03], "range": ["#ff9900", "#ee1100", "#000000", "#0000ee", "#e8e8ff"]}, "legend": null},
     "detail": {"field": "d", "type": "quantitative"}
    }
   },
   {
    "data": {"name": "sab"},
    "mark": {"type": "point", "shape": "square", "filled": true, "size": 22, "opacity": 1, "clip": true},
    "encoding": {
     "x": {"field": "L", "type": "quantitative"},
     "y": {"field": "S", "type": "quantitative"},
     "color": {"field": "d", "type": "quantitative", "scale": {"domain": [-0.03, -0.015, 0, 0.015, 0.03], "range": ["#ff9900", "#ee1100", "#000000", "#0000ee", "#e8e8ff"]}, "legend": null}
    }
   },
   {
    "data": {"name": "sab"},
    "mark": {"type": "rect", "clip": true, "strokeWidth": 0},
    "encoding": {
     "x": {"field": "L", "type": "quantitative"},
     "x2": {"field": "L"},
     "y": {"field": "S", "type": "quantitative"},
     "y2": {"field": "S"},
     "color": {"field": "d", "type": "quantitative", "scale": {"domain": [-0.03, -0.015, 0, 0.015, 0.03], "range": ["#ff9900", "#ee1100", "#000000", "#0000ee", "#e8e8ff"]},
      "legend": {"type": "gradient", "orient": "none", "legendX": 23, "legendY": 18, "direction": "horizontal", "gradientLength": 68, "gradientThickness": 8, "values": [-0.03, 0, 0.03], "format": ".2f", "title": "p − p_c", "titleOrient": "bottom", "titleAnchor": "middle", "titleFontSize": 15, "titleFontStyle": "italic", "titlePadding": 1, "labelFontSize": 13, "labelAlign": "center", "labelOverlap": false, "gradientStrokeColor": "#000", "gradientStrokeWidth": 0.8}}
    }
   },
   {
    "data": {"name": "refl"},
    "mark": {"type": "line", "strokeWidth": 1.5, "strokeDash": [6, 2, 1.5, 2], "clip": true},
    "encoding": {
     "x": {"field": "L", "type": "quantitative"},
     "y": {"field": "S", "type": "quantitative"},
     "stroke": {"field": "kind", "type": "nominal", "scale": {"domain": ["∼ L", "∼ const"], "range": ["#22228a", "#ff1a1a"]},
      "legend": {"orient": "none", "legendX": 10, "legendY": 52, "title": null, "symbolType": "stroke", "symbolStrokeWidth": 2, "symbolDash": [6, 2, 1.5, 2], "symbolSize": 160, "labelFontSize": 14.5, "rowPadding": 1, "labelOffset": 4}}
    }
   },
   {
    "data": {"values": [{"t": "(a)"}]},
    "mark": {"type": "text", "fontWeight": "bold", "fontSize": 15, "align": "left", "baseline": "middle"},
    "encoding": {
     "x": {"datum": 7.3, "type": "quantitative"},
     "y": {"datum": 3.07, "type": "quantitative"},
     "text": {"field": "t"}
    }
   }
  ]
 },
 {
  "spacing": 42,
  "bounds": "flush",
  "resolve": {"scale": {"color": "independent", "stroke": "independent"}, "legend": {"color": "independent", "stroke": "independent"}},
  "hconcat": [
   {
    "width": 235, "height": 226,
    "layer": [
     {
      "layer": [
       {
        "data": {"name": "I3"},
        "mark": {"type": "line", "strokeWidth": 1, "clip": true},
        "encoding": {
         "x": {"field": "p", "type": "quantitative", "scale": {"domain": [0.1331, 0.16], "nice": false, "zero": false}, "axis": {"values": [0.135, 0.14, 0.145, 0.15, 0.155, 0.16], "format": ".3f", "title": "p", "titleFontStyle": "italic"}},
         "y": {"field": "I", "type": "quantitative", "scale": {"domain": [-0.95, 30.1], "nice": false, "zero": false}, "axis": {"values": [0, 5, 10, 15, 20, 25, 30], "title": "−I₃", "titleFontStyle": "italic"}},
         "color": {"field": "L", "type": "quantitative", "scale": {"type": "log", "domain": [16, 128], "scheme": "viridis"}, "legend": null},
         "detail": {"field": "L", "type": "quantitative"}
        }
       },
       {
        "data": {"name": "I3"},
        "mark": {"type": "point", "shape": "square", "filled": true, "size": 16, "opacity": 0.95, "clip": true},
        "encoding": {
         "x": {"field": "p", "type": "quantitative"},
         "y": {"field": "I", "type": "quantitative"},
         "color": {"field": "L", "type": "quantitative", "scale": {"type": "log", "domain": [16, 128], "scheme": "viridis"}, "legend": null}
        }
       },
       {
        "data": {"name": "I3"},
        "mark": {"type": "rect", "clip": true, "strokeWidth": 0},
        "encoding": {
         "x": {"field": "p", "type": "quantitative"},
         "x2": {"field": "p"},
         "y": {"field": "I", "type": "quantitative"},
         "y2": {"field": "I"},
         "color": {"field": "L", "type": "quantitative", "scale": {"type": "log", "domain": [16, 128], "scheme": "viridis"},
          "legend": {"type": "gradient", "orient": "none", "legendX": 138, "legendY": 6, "direction": "horizontal", "gradientLength": 67, "gradientThickness": 7, "values": [16, 48, 128], "title": "L", "titleOrient": "bottom", "titleAnchor": "middle", "titleFontSize": 15, "titleFontStyle": "italic", "titlePadding": 0, "labelFontSize": 12.5, "labelAlign": "center", "labelOverlap": false, "gradientStrokeColor": "#000", "gradientStrokeWidth": 0.8}}
        }
       },
       {
        "data": {"values": [{"t": "(b)"}]},
        "mark": {"type": "text", "fontWeight": "bold", "fontSize": 15, "align": "left", "baseline": "middle"},
        "encoding": {
         "x": {"datum": 0.13378, "type": "quantitative"},
         "y": {"datum": 28.6, "type": "quantitative"},
         "text": {"field": "t"}
        }
       }
      ]
     },
     {
      "layer": [
       {
        "data": {"values": [{"x1": 0.14266, "x2": 0.14938, "y1": -0.23, "y2": 4.0}]},
        "mark": {"type": "rect", "fill": "#ffffff", "stroke": "#000", "strokeWidth": 1},
        "encoding": {
         "x": {"field": "x1", "type": "quantitative", "scale": {"domain": [0.136426, 0.149866], "nice": false, "zero": false}, "axis": {"orient": "bottom", "offset": -52.1, "domain": false, "values": [0.143, 0.146, 0.149], "format": ".3f", "title": "p", "titleFontStyle": "italic", "labelFontSize": 11.5, "titleFontSize": 15}},
         "x2": {"field": "x2"},
         "y": {"field": "y1", "type": "quantitative", "scale": {"domain": [-1.801, 5.013], "nice": false, "zero": false}, "axis": {"orient": "left", "offset": -109, "domain": false, "values": [0, 1, 2, 3, 4], "title": "−I₃", "titleFontStyle": "italic", "labelFontSize": 11.5, "titleFontSize": 15}},
         "y2": {"field": "y2"}
        }
       },
       {
        "data": {"name": "I3"},
        "transform": [{"filter": "datum.p >= 0.1429 && datum.p <= 0.1492 && datum.I <= 4.0"}],
        "mark": {"type": "line", "strokeWidth": 1},
        "encoding": {
         "x": {"field": "p", "type": "quantitative"},
         "y": {"field": "I", "type": "quantitative"},
         "color": {"field": "L", "type": "quantitative", "scale": {"type": "log", "domain": [16, 128], "scheme": "viridis"}, "legend": null},
         "detail": {"field": "L", "type": "quantitative"}
        }
       },
       {
        "data": {"name": "I3"},
        "transform": [{"filter": "datum.p >= 0.1429 && datum.p <= 0.1492 && datum.I <= 4.0"}],
        "mark": {"type": "point", "shape": "square", "filled": true, "size": 11, "opacity": 0.95},
        "encoding": {
         "x": {"field": "p", "type": "quantitative"},
         "y": {"field": "I", "type": "quantitative"},
         "color": {"field": "L", "type": "quantitative", "scale": {"type": "log", "domain": [16, 128], "scheme": "viridis"}, "legend": null}
        }
       }
      ]
     }
    ],
    "resolve": {"scale": {"x": "independent", "y": "independent"}}
   },
   {
    "width": 236, "height": 226,
    "layer": [
     {
      "layer": [
       {
        "data": {"name": "I3"},
        "mark": {"type": "line", "strokeWidth": 1.6, "strokeDash": [4, 2], "opacity": 0.9, "clip": true},
        "encoding": {
         "x": {"field": "xs", "type": "quantitative", "scale": {"domain": [-2, 3], "nice": false, "zero": false}, "axis": {"values": [-2, -1, 0, 1, 2, 3], "title": "(p − p_c)L¹ᐟᵛ", "titleFontStyle": "italic"}},
         "y": {"field": "I", "type": "quantitative", "scale": {"domain": [-0.93, 25.08], "nice": false, "zero": false}, "axis": {"values": [0, 5, 10, 15, 20, 25], "title": "−I₃", "titleFontStyle": "italic"}},
         "color": {"field": "L", "type": "quantitative", "scale": {"type": "log", "domain": [16, 128], "scheme": "viridis"}, "legend": null},
         "detail": {"field": "L", "type": "quantitative"}
        }
       },
       {
        "data": {"name": "I3"},
        "mark": {"type": "point", "shape": "square", "filled": true, "size": 14, "opacity": 0.9, "clip": true},
        "encoding": {
         "x": {"field": "xs", "type": "quantitative"},
         "y": {"field": "I", "type": "quantitative"},
         "color": {"field": "L", "type": "quantitative", "scale": {"type": "log", "domain": [16, 128], "scheme": "viridis"}, "legend": null}
        }
       },
       {
        "data": {"values": [{"t": "(c)"}]},
        "mark": {"type": "text", "fontWeight": "bold", "fontSize": 15, "align": "left", "baseline": "middle"},
        "encoding": {
         "x": {"datum": -1.41, "type": "quantitative"},
         "y": {"datum": 23.84, "type": "quantitative"},
         "text": {"field": "t"}
        }
       }
      ]
     },
     {
      "layer": [
       {
        "data": {"name": "heat"},
        "mark": {"type": "rect", "strokeWidth": 0, "binSpacing": 0},
        "encoding": {
         "x": {"field": "pc", "type": "quantitative", "bin": {"binned": true, "step": 0.0001}, "scale": {"domain": [0.1453677, 0.1488716], "nice": false, "zero": false}, "axis": {"orient": "bottom", "offset": -82.5, "domain": false, "values": [0.147, 0.1475, 0.148], "format": ".4f", "title": "p_c", "titleFontStyle": "italic", "labelFontSize": 11, "titleFontSize": 15, "titlePadding": 2}},
         "y": {"field": "nu", "type": "quantitative", "bin": {"binned": true, "step": 0.005}, "scale": {"domain": [0.77327, 0.95607], "nice": false, "zero": false}, "axis": {"orient": "left", "offset": -83, "domain": false, "values": [0.85, 0.875, 0.9, 0.925, 0.95], "format": ".3f", "title": "ν", "titleFontStyle": "italic", "labelFontSize": 11, "titleFontSize": 15, "titlePadding": 1}},
         "color": {"field": "w", "type": "quantitative", "scale": {"domain": [0, 0.49, 0.98, 1.47, 1.96, 2.45, 2.94, 3.43, 3.92, 4.41, 4.9], "range": ["#03051a", "#221331", "#451c47", "#6a1f56", "#921c5b", "#b91657", "#d92847", "#ed503e", "#f47d57", "#f6a98a", "#faebdd"]},
          "legend": {"type": "gradient", "orient": "none", "legendX": 204, "legendY": 9, "direction": "vertical", "gradientLength": 107, "gradientThickness": 7, "values": [0, 0.75, 1.5, 2.25, 3, 3.75, 4.5], "format": ".2f", "title": "w", "titleFontStyle": "italic", "titleFontSize": 15, "titlePadding": 1, "labelFontSize": 11, "labelOverlap": false, "gradientStrokeColor": "#000", "gradientStrokeWidth": 0.5}}
        }
       },
       {
        "data": {"name": "ell"},
        "mark": {"type": "line", "color": "#3a9a2a", "strokeWidth": 1.2},
        "encoding": {
         "x": {"field": "pc", "type": "quantitative"},
         "y": {"field": "nu", "type": "quantitative"},
         "order": {"field": "o", "type": "quantitative"}
        }
       },
       {
        "data": {"name": "star"},
        "mark": {"type": "point", "shape": "M0,-1L0.235,-0.324L0.951,-0.309L0.38,0.124L0.588,0.809L0,0.4L-0.588,0.809L-0.38,0.124L-0.951,-0.309L-0.235,-0.324Z", "filled": true, "color": "#1f77b4", "size": 70, "opacity": 1},
        "encoding": {
         "x": {"field": "pc", "type": "quantitative"},
         "y": {"field": "nu", "type": "quantitative"}
        }
       },
       {
        "data": {"values": [{"x1": 0.1466, "x2": 0.1483, "y1": 0.84, "y2": 0.95}]},
        "mark": {"type": "rect", "fillOpacity": 0, "stroke": "#222", "strokeWidth": 0.8},
        "encoding": {
         "x": {"field": "x1", "type": "quantitative"},
         "x2": {"field": "x2"},
         "y": {"field": "y1", "type": "quantitative"},
         "y2": {"field": "y2"}
        }
       }
      ]
     }
    ],
    "resolve": {"scale": {"x": "independent", "y": "independent", "color": "independent"}}
   }
  ]
 }
]
}
